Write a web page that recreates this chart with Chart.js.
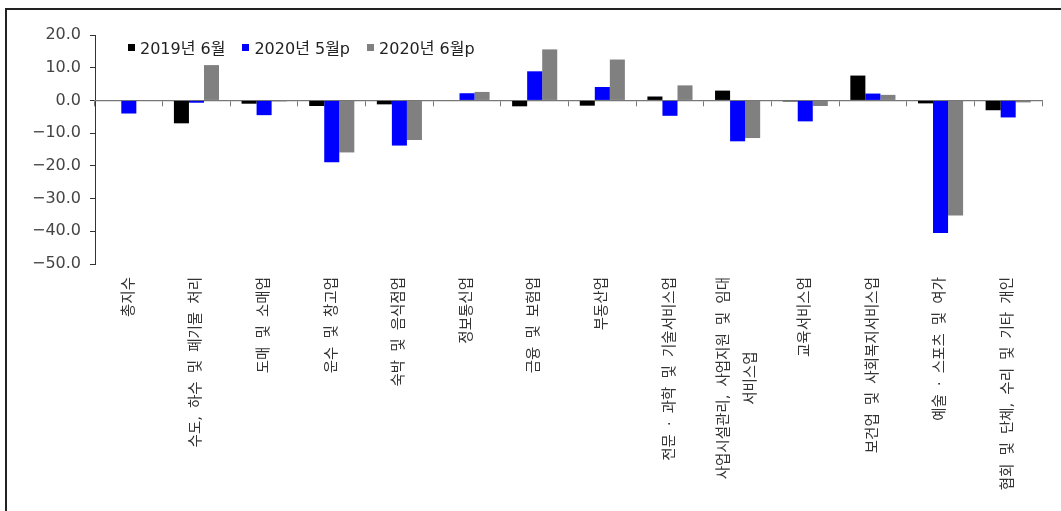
<!DOCTYPE html>
<html>
<head>
<meta charset="utf-8">
<script src="https://cdn.jsdelivr.net/npm/chart.js@4.4.1/dist/chart.umd.min.js"></script>
<style>
  html, body { margin: 0; padding: 0; background: #fff; }
  #wrap { position: relative; width: 1061px; height: 511px; overflow: hidden; }
  #frame { position: absolute; left: 5px; top: 8px; right: -4px; bottom: -4px;
           border-left: 2px solid #222; border-top: 2px solid #222; pointer-events: none; }
  #legend { position: absolute; left: 128px; top: 35px; display: flex; align-items: center;
            font-family: "DejaVu Sans", "Noto Sans CJK KR", sans-serif; font-size: 16px; color: #222; }
  .item { display: flex; align-items: center; margin-right: 17px; }
  .sw { width: 7px; height: 7px; margin-right: 5px; }
</style>
</head>
<body>
<div id="wrap">
  <canvas id="c" width="1061" height="511"></canvas>
  <div id="legend"></div>
  <div id="frame"></div>
</div>
<script>
// ---- data ----
const categories = [
  '총지수',
  '수도, 하수 및 폐기물 처리',
  '도매 및 소매업',
  '운수 및 창고업',
  '숙박 및 음식점업',
  '정보통신업',
  '금융 및 보험업',
  '부동산업',
  '전문 · 과학 및 기술서비스업',
  ['사업시설관리, 사업지원 및 임대', '서비스업'],
  '교육서비스업',
  '보건업 및 사회복지서비스업',
  '예술 · 스포츠 및 여가',
  '협회 및 단체, 수리 및 기타 개인'
];
const seriesNames = ['2019년 6월', '2020년 5월p', '2020년 6월p'];
const jun2019 = [0.0, -7.0, -1.0, -1.7, -1.2, 0.0, -1.8, -1.6, 1.2, 3.0, -0.3, 7.6, -0.9, -3.0];
const may2020 = [-4.0, -0.7, -4.5, -18.9, -13.8, 2.2, 8.9, 4.1, -4.7, -12.5, -6.4, 2.1, -40.5, -5.2];
const jun2020 = [0.0, 10.8, -0.3, -15.9, -12.1, 2.6, 15.6, 12.5, 4.6, -11.5, -1.7, 1.7, -35.2, -0.6];
const yMin = -50, yMax = 20, yStep = 10;

const colors = ['#000000', '#0000FF', '#808080'];
const seriesData = [jun2019, may2020, jun2020];
const WORD_SPACING = '3.5px';

// HTML legend
const legendEl = document.getElementById('legend');
seriesNames.forEach((n, i) => {
  const it = document.createElement('div'); it.className = 'item';
  const sw = document.createElement('span'); sw.className = 'sw'; sw.style.background = colors[i];
  const tx = document.createElement('span'); tx.textContent = n;
  it.appendChild(sw); it.appendChild(tx); legendEl.appendChild(it);
});

// wider word spacing + center multi-line rotated labels
const labelTweaks = {
  id: 'labelTweaks',
  beforeDraw(chart) {
    const ctx = chart.ctx;
    ctx.wordSpacing = WORD_SPACING;
    const scale = chart.scales.x;
    const items = scale.getLabelItems();
    items.forEach(item => {
      if (Array.isArray(item.label) && !item._centered) {
        ctx.save();
        ctx.font = item.font.string;
        const w = Math.max(...item.label.map(l => ctx.measureText(l).width));
        ctx.restore();
        const n = item.label.length;
        const lh = item.font.lineHeight;
        const t = item.options.translation;
        item.options.translation = [t[0] - (n - 1) * lh / 2, t[1] + w / 2];
        item.options.textAlign = 'center';
        item._centered = true;
      }
    });
  },
  afterDraw(chart) {
    chart.ctx.wordSpacing = '0px';
  }
};

new Chart(document.getElementById('c'), {
  type: 'bar',
  data: {
    labels: categories,
    datasets: seriesNames.map((n, i) => ({
      label: n,
      data: seriesData[i],
      backgroundColor: colors[i],
      borderWidth: 0,
      categoryPercentage: 0.667,
      barPercentage: 1.0
    }))
  },
  options: {
    responsive: false,
    devicePixelRatio: 1,
    animation: false,
    layout: { padding: { top: 35, right: 19, left: 0, bottom: 0 } },
    plugins: { legend: { display: false }, tooltip: { enabled: false } },
    scales: {
      y: {
        min: yMin, max: yMax,
        afterFit(s) { s.width = 95; },
        ticks: {
          stepSize: yStep,
          padding: 9,
          color: '#444',
          font: { family: '"DejaVu Sans", sans-serif', size: 16 },
          callback: v => v.toFixed(1).replace('-', '\u2212')
        },
        grid: { drawOnChartArea: false, tickLength: 5, color: '#333', lineWidth: 1 },
        border: { display: true, color: '#333', width: 1 }
      },
      x: {
        afterFit(s) { s.height = 247; },
        offset: true,
        grid: { display: false, drawTicks: false, offset: true },
        border: { display: false },
        ticks: {
          autoSkip: false, maxRotation: 90, minRotation: 90, padding: 13,
          color: '#333',
          font: { family: '"DejaVu Sans", "Noto Sans CJK KR", sans-serif', size: 14.5, lineHeight: 1.86 }
        }
      },
      x0: {
        type: 'category',
        position: { y: 0 },
        offset: true,
        afterFit(s) { s.height = 0; },
        grid: { drawOnChartArea: false, offset: true, tickLength: 5, color: '#777', lineWidth: 1 },
        border: { display: true, color: '#777', width: 1.3 },
        ticks: { display: false }
      }
    }
  },
  plugins: [labelTweaks]
});
</script>
</body>
</html>
